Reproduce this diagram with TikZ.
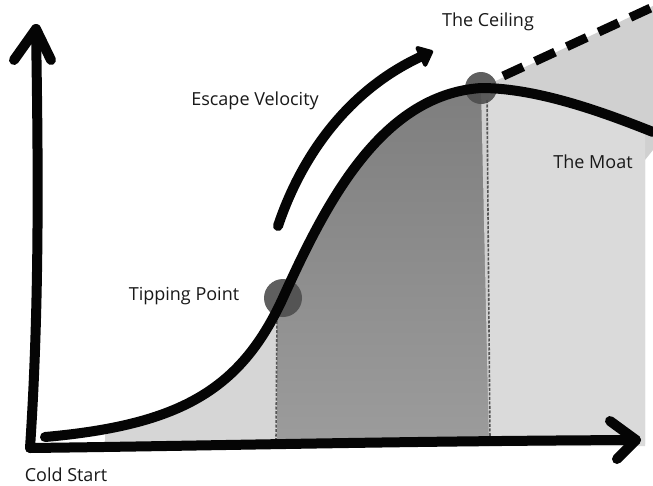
\documentclass[tikz,border=0pt]{standalone}
\usepackage{fontspec}
\setmainfont{Open Sans}
\usetikzlibrary{arrows.meta}
\definecolor{ink}{HTML}{050505}
\definecolor{lightwash}{HTML}{D6D6D6}
\definecolor{rightwash}{HTML}{DADADA}
\definecolor{wedgewash}{HTML}{D0D0D0}
\definecolor{midtop}{HTML}{7E7E7E}
\definecolor{midbot}{HTML}{9C9C9C}
\definecolor{dotgray}{HTML}{4E4E4E}
\definecolor{divgray}{HTML}{555555}
\tikzset{
  thickink/.style={draw=ink, line width=10pt, line cap=round, line join=round},
  lbl/.style={font=\fontsize{18}{21}\selectfont, text=black!90, inner sep=0pt},
  dotmark/.style={fill=dotgray, fill opacity=0.9, draw=none},
  divider/.style={draw=divgray, line width=1.6pt, dash pattern=on 3pt off 1.5pt}
}
\def\scurve{(45,437) .. controls (180,425) and (240,390) .. (282,300) .. controls (325,205) and (380,95) .. (481,88) .. controls (540,88) and (610,115) .. (653,132)}
\begin{document}
\begin{tikzpicture}[x=1pt,y=-1pt]
\useasboundingbox (0,0) rectangle (653,485);
\fill[white] (0,0) rectangle (653,485);
% washes
\begin{scope}
  \clip (105,0) rectangle (277,447);
  \fill[lightwash] \scurve -- (653,446) -- (45,446) -- cycle;
\end{scope}
\begin{scope}
  \clip (277,0) rectangle (489,447);
  \shade[top color=midtop, bottom color=midbot] \scurve -- (653,446) -- (45,446) -- cycle;
\end{scope}
\fill[wedgewash] (481,88) -- (653,6) -- (653,150) -- (645,160) -- (645,444) -- (489,444) -- cycle;
\begin{scope}
  \clip (489,0) rectangle (645,447);
  \fill[rightwash] \scurve -- (653,446) -- (45,446) -- cycle;
\end{scope}
% dividers
\coordinate (d1t) at (277,312);
\coordinate (d1b) at (276,441);
\coordinate (d2t) at (487,100);
\coordinate (d2b) at (490,440);
\draw[divider] (d1t) -- (d1b);
\draw[divider] (d2t) -- (d2b);
% dots
\node[dotmark, circle, minimum size=38pt] (tipdot) at (283,298) {};
\node[dotmark, circle, minimum size=32pt] (ceildot) at (481,88) {};
% axes
\coordinate (origin) at (30,448);
\coordinate (ytop) at (36,29);
\coordinate (xend) at (636,440);
\draw[thickink] (origin) .. controls (40,300) and (38,150) .. (ytop);
\draw[thickink] (14,60) -- (ytop) -- (51,60);
\draw[thickink] (origin) .. controls (200,446) and (400,441) .. (xend);
\draw[thickink] (610,421) -- (xend) -- (617,459);
% main S curve
\draw[thickink] \scurve;
% ceiling dashed line
\coordinate (dashend) at (655,6);
\draw[draw=ink, line width=9pt, dash pattern=on 22pt off 13pt] (ceildot.east) ++(6,-12) -- (dashend);
% escape velocity arrow
\coordinate (evs) at (278,226);
\coordinate (eve) at (433,51);
\draw[thickink, -{Triangle[length=16pt,width=26pt,round]}] (evs) .. controls (300,160) and (345,92) .. (eve);
% labels
\node[lbl] (ceiling) at (488,22) {The Ceiling};
\node[lbl] (escape) at (255,101) {Escape Velocity};
\node[lbl] (moat) at (593,162) {The Moat};
\node[lbl] (tipping) at (184,296) {Tipping Point};
\node[lbl] (cold) at (66,475) {Cold Start};
\end{tikzpicture}
\end{document}
